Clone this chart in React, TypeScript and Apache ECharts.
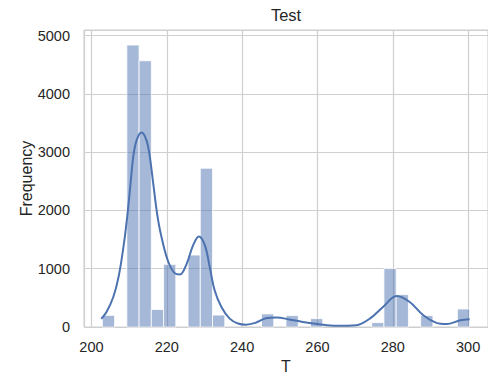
import React, { useEffect, useRef } from "react";
import * as echarts from "echarts";

// Histogram of T: first bin edge, bin width and the count in each bin
const binStart = 202.9;
const binWidth = 3.25;
const counts = [
  200, 0, 4840, 4570, 300, 1075, 0, 1235, 2725, 205,
  0, 0, 0, 225, 0, 196, 0, 144, 0, 0,
  0, 0, 75, 1003, 556, 0, 196, 0, 0, 309,
];

// Kernel density estimate, scaled to counts
const kdeX = [
  202.6, 204.0, 205.8, 207.2, 208.5, 209.4, 210.3, 211.1, 212.0, 213.3,
  214.6, 215.5, 216.4, 217.7, 219.0, 220.4, 222.0, 223.5, 225.3, 227.0,
  228.5, 230.1, 231.4, 232.7, 234.5, 236.7, 238.9, 241.0, 243.5, 246.3,
  249.2, 252.5, 256.1, 260.5, 265.0, 270.3, 273.9, 277.4, 281.0, 284.5,
  288.1, 291.6, 294.3, 297.9, 300.4,
];
const kdeY = [
  140, 258, 515, 860, 1375, 1833, 2405, 2921, 3208, 3340,
  3208, 2921, 2464, 1833, 1433, 1120, 930, 900, 1089, 1404,
  1555, 1404, 1031, 631, 344, 144, 60, 40, 70, 150,
  165, 130, 86, 46, 20, 30, 144, 344, 530, 430,
  201, 70, 50, 115, 132,
];

const xTicks = [200, 220, 240, 260, 280, 300];
const yTicks = [0, 1000, 2000, 3000, 4000, 5000];

const FONT = "'Liberation Sans', Arial, sans-serif";
const TEXT = "#262626";
const GRID = "#cfcfcf";
const BLUE = "#4c72b0";

export default function App() {
  const ref = useRef<HTMLDivElement>(null);

  useEffect(() => {
    if (!ref.current) return;
    const chart = echarts.init(ref.current, undefined, { renderer: "svg" });

    const bars = counts.map((c, i) => [
      binStart + i * binWidth,
      binStart + (i + 1) * binWidth,
      c,
    ]);
    const binEnd = binStart + counts.length * binWidth;
    const span = binEnd - binStart;
    // 5% data margins on the x axis
    const xMin = binStart - 0.05 * span;
    const xMax = binEnd + 0.05 * span;
    const yMax = 5098;

    chart.setOption({
      animation: false,
      backgroundColor: "#ffffff",
      textStyle: { fontFamily: FONT, color: TEXT },
      graphic: [
        {
          type: "text",
          x: 286,
          y: 15,
          style: {
            text: "Test",
            font: `16.5px ${FONT}`,
            fill: TEXT,
            align: "center",
            verticalAlign: "middle",
          },
        },
      ],
      grid: {
        left: 84,
        right: 0,
        top: 30,
        bottom: 50,
        show: true,
        borderColor: GRID,
        borderWidth: 1,
        backgroundColor: "transparent",
        outerBoundsMode: "none",
        containLabel: false,
      },
      xAxis: {
        type: "value",
        min: xMin,
        max: xMax,
        name: "T",
        nameLocation: "middle",
        nameGap: 31,
        nameMoveOverlap: false,
        nameTextStyle: { fontSize: 16, color: TEXT, fontFamily: FONT },
        axisLine: { show: false },
        axisTick: { show: false },
        axisLabel: {
          fontSize: 14.5,
          color: TEXT,
          fontFamily: FONT,
          margin: 12,
          formatter: (v: number) => (xTicks.includes(Math.round(v * 1000) / 1000) ? String(v) : ""),
        },
        splitLine: { show: true, lineStyle: { color: GRID, width: 1.2 } },
      },
      yAxis: {
        type: "value",
        min: 0,
        max: yMax,
        name: "Frequency",
        nameLocation: "middle",
        nameGap: 50,
        nameMoveOverlap: false,
        nameTextStyle: { fontSize: 16, color: TEXT, fontFamily: FONT },
        axisLine: { show: false },
        axisTick: { show: false },
        axisLabel: {
          fontSize: 14.5,
          color: TEXT,
          fontFamily: FONT,
          margin: 14,
          formatter: (v: number) => (yTicks.includes(v) ? String(v) : ""),
        },
        splitLine: { show: true, lineStyle: { color: GRID, width: 1.2 } },
      },
      series: [
        {
          type: "custom",
          data: bars,
          encode: { x: [0, 1], y: 2 },
          z: 2,
          renderItem: (params: any, api: any) => {
            const c = api.value(2);
            if (!c) return null;
            const p0 = api.coord([api.value(0), c]);
            const p1 = api.coord([api.value(1), 0]);
            return {
              type: "rect",
              shape: { x: p0[0], y: p0[1], width: p1[0] - p0[0], height: p1[1] - p0[1] },
              style: {
                fill: "rgba(76,114,176,0.5)",
                stroke: "#ffffff",
                lineWidth: 0.8,
              },
            };
          },
        },
        {
          type: "line",
          data: kdeX.map((x, i) => [x, kdeY[i]]),
          showSymbol: false,
          smooth: 0.35,
          z: 3,
          lineStyle: { color: BLUE, width: 2 },
          itemStyle: { color: BLUE },
        },
      ],
    });

    return () => chart.dispose();
  }, []);

  return (
    <div
      ref={ref}
      style={{ position: "absolute", left: 0, top: 0, width: 488, height: 377 }}
    />
  );
}
